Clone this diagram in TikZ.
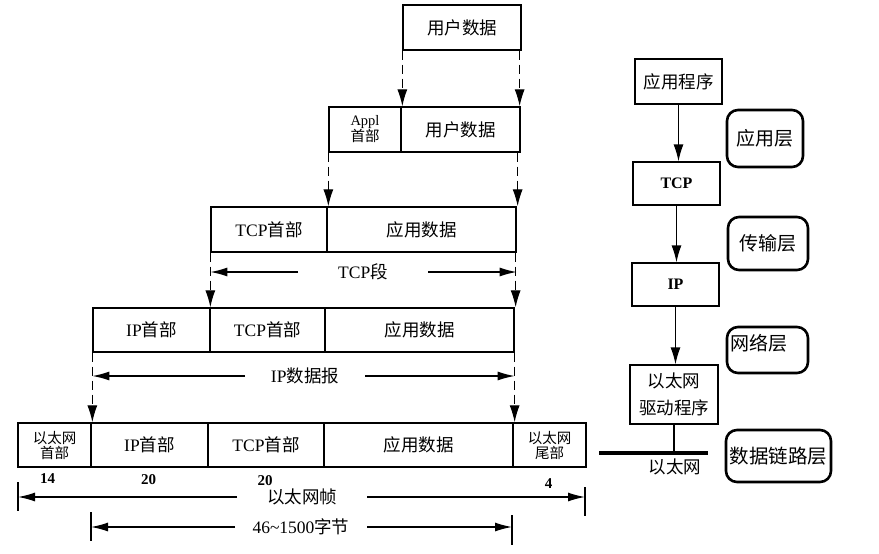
\documentclass[tikz,border=0pt]{standalone}
\usepackage{fontspec}
\setmainfont{Liberation Serif}
\newfontfamily\cjk{Noto Sans CJK SC}
\usetikzlibrary{arrows.meta,calc}
\begin{document}
\begin{tikzpicture}[x=1pt,y=-1pt,
  cell/.style={draw,line width=1.3pt,minimum height=45pt,inner sep=0pt,align=center,font=\fontsize{17.5}{20}\selectfont},
  smallcell/.style={cell,font=\fontsize{14.5}{17}\selectfont},
  stackbox/.style={draw,line width=1.3pt,inner sep=0pt,align=center,font=\fontsize{17.5}{27}\selectfont},
  layerbox/.style={draw,line width=2.6pt,rounded corners=11pt,inner sep=0pt,align=center,font=\cjk\fontsize{19}{21}\selectfont},
  dasharrow/.style={line width=1.2pt,dash pattern=on 9pt off 5pt,-{Latex[length=17pt,width=10pt]}},
  solidarrow/.style={line width=1.3pt,-{Latex[length=17pt,width=10pt]}},
  dimarrow/.style={line width=1.3pt,-{Latex[length=17pt,width=9pt]}},
  tick/.style={line width=1.3pt},
  dimtext/.style={font=\fontsize{17.5}{20}\selectfont,inner sep=1pt},
  num/.style={font=\bfseries\fontsize{15}{17}\selectfont,inner sep=0pt}
]
\useasboundingbox (0,0) rectangle (879,554);

% ---- row 1
\node[cell,minimum width=118pt] (u) at (462,27.5) {\cjk 用户数据};
% ---- row 2
\node[smallcell,minimum width=72pt] (a1) at (365,129.5) {Appl\\[-1pt]\cjk 首部};
\node[cell,minimum width=119pt] (a2) at (460.5,129.5) {\cjk 用户数据};
% ---- row 3
\node[cell,minimum width=116pt] (t1) at (269,229.5) {TCP\cjk 首部};
\node[cell,minimum width=189pt] (t2) at (421.5,229.5) {\cjk 应用数据};
% ---- row 4
\node[cell,minimum width=117pt,minimum height=44pt] (i1) at (151.5,330) {IP\cjk 首部};
\node[cell,minimum width=115pt,minimum height=44pt] (i2) at (267.5,330) {TCP\cjk 首部};
\node[cell,minimum width=189pt,minimum height=44pt] (i3) at (419.5,330) {\cjk 应用数据};
% ---- row 5
\node[smallcell,minimum width=73pt,minimum height=44pt] (e1) at (54.5,445) {\cjk 以太网\\[-2pt]\cjk 首部};
\node[cell,minimum width=117pt,minimum height=44pt] (e2) at (149.5,445) {IP\cjk 首部};
\node[cell,minimum width=116pt,minimum height=44pt] (e3) at (266,445) {TCP\cjk 首部};
\node[cell,minimum width=189pt,minimum height=44pt] (e4) at (418.5,445) {\cjk 应用数据};
\node[smallcell,minimum width=73pt,minimum height=44pt] (e5) at (549.5,445) {\cjk 以太网\\[-2pt]\cjk 尾部};

% numbers
\node[num] (n1) at ($(e1.south)+(-7,11)$) {14};
\node[num] (n2) at ($(e2.south)+(-1,12)$) {20};
\node[num] (n3) at ($(e3.south)+(-1,13)$) {20};
\node[num] (n4) at ($(e5.south)+(-1,16)$) {4};

% ---- dashed encapsulation arrows
\draw[dasharrow] (u.south west) -- (u.south west |- a2.north);
\draw[dasharrow] ([xshift=-2pt]u.south east) -- ([xshift=-2pt]u.south east |- a2.north);
\draw[dasharrow] (a1.south west) -- (a1.south west |- t2.north);
\draw[dasharrow] ([xshift=-3pt]a2.south east) -- ([xshift=-3pt]a2.south east |- t2.north);
\draw[dasharrow] (t1.south west) -- (t1.south west |- i2.north);
\draw[dasharrow] ([xshift=-1pt]t2.south east) -- ([xshift=-1pt]t2.south east |- i3.north);
\draw[dasharrow] (i1.south west) -- (i1.south west |- e2.north);
\draw[dasharrow] (i3.south east) -- (i3.south east |- e4.north);

% ---- TCP segment
\node[dimtext] (tcpseg) at (363,272) {TCP\cjk 段};
\coordinate (tsL) at (298,272);
\coordinate (tsR) at (428,272);
\draw[dimarrow] (tsL) -- (t1.west |- tsL);
\draw[dimarrow] (tsR) -- (t2.east |- tsR);

% ---- IP datagram
\node[dimtext] (ipdg) at (305,376) {IP\cjk 数据报};
\coordinate (ipL) at (245,376);
\coordinate (ipR) at (365,376);
\draw[dimarrow] (ipL) -- (i1.west |- ipL);
\draw[dimarrow] (ipR) -- (i3.east |- ipR);

% ---- Ethernet frame
\node[dimtext] (frame) at (302,497) {\cjk 以太网帧};
\coordinate (frL) at (237,497);
\coordinate (frR) at (367,497);
\coordinate (tkA1) at (18,482);
\coordinate (tkA2) at (18,511);
\coordinate (tkB1) at (585,487);
\coordinate (tkB2) at (585,516);
\draw[tick] (tkA1) -- (tkA2);
\draw[tick] (tkB1) -- (tkB2);
\draw[dimarrow] (frL) -- (tkA1 |- frL);
\draw[dimarrow] (frR) -- (tkB1 |- frR);

% ---- 46~1500 bytes
\node[dimtext] (bytes) at (301,527) {46\textasciitilde1500\cjk 字节};
\coordinate (byL) at (235,527);
\coordinate (byR) at (367,527);
\coordinate (tkC1) at (91,512);
\coordinate (tkC2) at (91,541);
\coordinate (tkD1) at (512,515);
\coordinate (tkD2) at (512,545);
\draw[tick] (tkC1) -- (tkC2);
\draw[tick] (tkD1) -- (tkD2);
\draw[dimarrow] (byL) -- (tkC1 |- byL);
\draw[dimarrow] (byR) -- (tkD1 |- byR);

% ---- protocol stack
\node[stackbox,minimum width=87pt,minimum height=45pt] (r1) at (678.5,81.5) {\cjk 应用程序};
\node[stackbox,minimum width=87pt,minimum height=43pt,font=\bfseries\fontsize{16}{18}\selectfont] (r2) at (676.5,183.5) {TCP};
\node[stackbox,minimum width=87pt,minimum height=43pt,font=\bfseries\fontsize{16}{18}\selectfont] (r3) at (675.5,284.5) {IP};
\node[stackbox,minimum width=88pt,minimum height=59pt] (r4) at (674,394.5) {\cjk 以太网\\\cjk 驱动程序};
\draw[solidarrow] (r1.south) -- (r1.south |- r2.north);
\draw[solidarrow] (r2.south) -- (r2.south |- r3.north);
\draw[solidarrow] (r3.south) -- (r3.south |- r4.north);

\coordinate (ethL) at (599,453);
\coordinate (ethR) at (708,453);
\draw[line width=4pt] (ethL) -- (ethR);
\draw[line width=1.3pt] (r4.south) -- (r4.south |- ethL);
\node[font=\cjk\fontsize{17.5}{20}\selectfont,inner sep=0pt] (ethlbl) at (675,467) {以太网};

% ---- layer labels
\node[layerbox,minimum width=76pt,minimum height=57pt] (l1) at (765,138.5) {应用层};
\node[layerbox,minimum width=80pt,minimum height=53pt] (l2) at (768,243.5) {传输层};
\node[layerbox,minimum width=81pt,minimum height=46pt] (l3) at (767.5,350) {};
\node[font=\cjk\fontsize{19}{21}\selectfont,inner sep=0pt,anchor=west] (l3t) at ($(l3.west)+(5,-7)$) {网络层};
\node[layerbox,minimum width=105pt,minimum height=52pt,font=\cjk\fontsize{19.5}{21}\selectfont] (l4) at (778.5,456) {数据链路层};
\end{tikzpicture}
\end{document}
